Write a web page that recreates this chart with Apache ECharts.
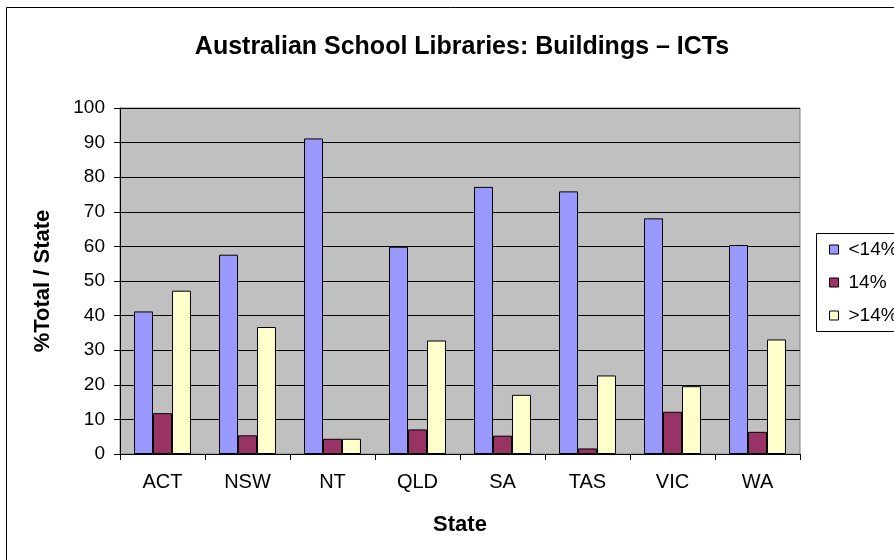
<!DOCTYPE html>
<html><head><meta charset="utf-8">
<script src="https://cdn.jsdelivr.net/npm/echarts@6/dist/echarts.min.js"></script>
<style>html,body{margin:0;padding:0;background:#fff}#c{width:894px;height:560px}</style>
</head><body><div id="c"></div>
<script>
const categories = ['ACT','NSW','NT','QLD','SA','TAS','VIC','WA'];
const seriesNames = ['<14%','14%','>14%'];
const lessThan14 = [41.2, 57.6, 91.2, 59.9, 77.2, 75.9, 68.1, 60.4];
const equal14 = [11.8, 5.4, 4.4, 7.1, 5.3, 1.6, 12.2, 6.4];
const greaterThan14 = [47.2, 36.7, 4.4, 32.8, 17.1, 22.7, 19.6, 33.1];
const yTicks = [0,10,20,30,40,50,60,70,80,90,100];
const colors = ['#9999ff','#993366','#ffffcc'];

const chart = echarts.init(document.getElementById('c'));
const font = 'Arial, "Liberation Sans", sans-serif';
const mk = (name, data, i) => ({
  name, type:'bar', data, barGap:'0%', barCategoryGap:'33%',
  itemStyle:{color:colors[i], borderColor:'#000', borderWidth:1}
});
chart.setOption({
  animation:false,
  textStyle:{fontFamily:font},
  title:{text:'Australian School Libraries: Buildings – ICTs', left:457, top:30, textAlign:'center',
    textStyle:{fontSize:25, fontWeight:'bold', color:'#000', fontFamily:font}},
  grid:{left:120, top:108, width:680, height:346},
  legend:{orient:'vertical', left:824, top:235, itemWidth:9, itemHeight:9, itemGap:14,
    icon:'rect', data:seriesNames,
    textStyle:{fontSize:19, color:'#000', fontFamily:font, padding:[0,0,0,5]},
    itemStyle:{borderColor:'#000', borderWidth:1}},
  xAxis:{type:'category', data:categories, name:'State', nameLocation:'middle', nameGap:60,
    nameTextStyle:{fontSize:22, fontWeight:'bold', color:'#000'},
    axisLine:{lineStyle:{color:'#000'}}, axisTick:{show:true, length:6, lineStyle:{color:'#000'}},
    axisLabel:{fontSize:20, color:'#000', margin:18}},
  yAxis:{type:'value', min:0, max:100, interval:10, name:'%Total / State', nameLocation:'middle', nameGap:66,
    nameTextStyle:{fontSize:22, fontWeight:'bold', color:'#000'},
    axisLine:{show:true, lineStyle:{color:'#000'}}, axisTick:{show:true, length:6, lineStyle:{color:'#000'}},
    axisLabel:{fontSize:19, color:'#000', margin:15, formatter:v=>yTicks.includes(v)?String(v):''},
    splitLine:{lineStyle:{color:'#000', width:1}}},
  series:[mk(seriesNames[0], lessThan14, 0), mk(seriesNames[1], equal14, 1), mk(seriesNames[2], greaterThan14, 2)],
  graphic:[
    {type:'rect', z:-10, shape:{x:120, y:108, width:680, height:346}, style:{fill:'#c0c0c0', stroke:'#808080', lineWidth:1}},
    {type:'rect', z:-5, shape:{x:6.5, y:7.5, width:1000, height:1000}, style:{fill:'none', stroke:'#000', lineWidth:1}},
    {type:'rect', z:-5, shape:{x:816.5, y:233.5, width:100, height:98}, style:{fill:'#fff', stroke:'#000', lineWidth:1}}
  ]
});
</script></body></html>
